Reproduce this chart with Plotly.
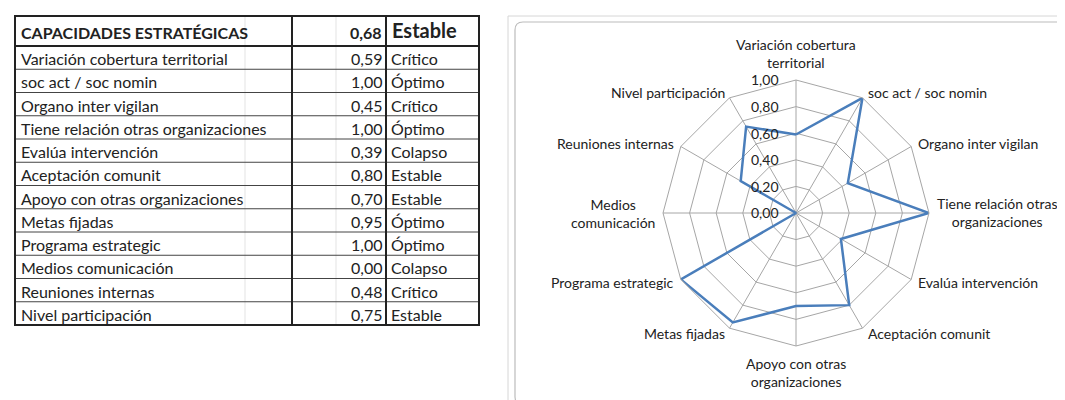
import math
import plotly.graph_objects as go

W, H = 1065, 400

# ---------------- data ----------------
title = "CAPACIDADES ESTRATÉGICAS"
overall_value = 0.68
overall_status = "Estable"

names = [
    "Variación cobertura territorial",
    "soc act / soc nomin",
    "Organo inter vigilan",
    "Tiene relación otras organizaciones",
    "Evalúa intervención",
    "Aceptación comunit",
    "Apoyo con otras organizaciones",
    "Metas fijadas",
    "Programa estrategic",
    "Medios comunicación",
    "Reuniones internas",
    "Nivel participación",
]
values = [0.59, 1.00, 0.45, 1.00, 0.39, 0.80, 0.70, 0.95, 1.00, 0.00, 0.48, 0.75]
status = ["Crítico", "Óptimo", "Crítico", "Óptimo", "Colapso", "Estable",
          "Estable", "Óptimo", "Óptimo", "Colapso", "Crítico", "Estable"]
chart_labels = [
    "Variación cobertura<br>territorial",
    "soc act / soc nomin",
    "Organo inter vigilan",
    "Tiene relación otras<br>organizaciones",
    "Evalúa intervención",
    "Aceptación comunit",
    "Apoyo con otras<br>organizaciones",
    "Metas fijadas",
    "Programa estrategic",
    "Medios<br>comunicación",
    "Reuniones internas",
    "Nivel participación",
]
radial_ticks = [0.0, 0.2, 0.4, 0.6, 0.8, 1.0]

# ---------------- helpers ----------------
def px(x):
    return x / W

def py(y):
    return 1 - y / H

def fmt(v):
    return f"{v:.2f}".replace(".", ",")

FONT = "Lato, 'Open Sans', sans-serif"
TXT = "#222222"

fig = go.Figure()

# ---------------- radar ----------------
cx, cy, R = 788, 205, 133
fig.add_trace(go.Scatterpolar(
    r=values + [values[0]],
    theta=names + [names[0]],
    mode="lines",
    line=dict(color="#4a7ebb", width=2.5),
    hoverinfo="skip",
    showlegend=False,
))

shapes = []
annotations = []

# radial tick labels (left of the vertical spoke, like Excel)
for t in radial_ticks:
    annotations.append(dict(text=fmt(t), x=px(cx - 15), y=py(cy - t * R), xref="paper", yref="paper",
                            xanchor="right", yanchor="middle", showarrow=False,
                            font=dict(family=FONT, size=14, color=TXT)))

# category labels around the web (Excel-style placement)
n_cat = len(names)
for i, lab in enumerate(chart_labels):
    ang = math.radians(90 - i * 360 / n_cat)
    ca, sa = math.cos(ang), math.sin(ang)
    pad = 6 if abs(ca) > 0.1 else 7
    lx = cx + (R + pad) * ca
    ly = cy - (R + pad) * sa
    xa = "left" if ca > 0.1 else ("right" if ca < -0.1 else "center")
    if abs(ca) <= 0.1:
        ya = "bottom" if sa > 0 else "top"
    else:
        ya = "middle"
    annotations.append(dict(text=lab, x=px(lx), y=py(ly), xref="paper", yref="paper",
                            xanchor=xa, yanchor=ya, align="center", showarrow=False,
                            font=dict(family=FONT, size=14, color=TXT)))

# ---------------- table ----------------
L, C1, C2, Rt = 7, 284, 378, 471
top, head_bot = 8, 38
row_h = (317 - head_bot) / len(names)
bottom = head_bot + row_h * len(names)

for gx in [237, 328]:
    shapes.append(dict(type="line", xref="paper", yref="paper",
                       x0=px(gx), x1=px(gx), y0=py(top), y1=py(bottom),
                       line=dict(color="#e3e3e3", width=1), layer="below"))

for i in range(1, len(names)):
    yy = head_bot + i * row_h
    shapes.append(dict(type="line", xref="paper", yref="paper",
                       x0=px(L), x1=px(Rt), y0=py(yy), y1=py(yy),
                       line=dict(color="#444444", width=1)))
shapes.append(dict(type="line", xref="paper", yref="paper",
                   x0=px(L), x1=px(Rt), y0=py(head_bot), y1=py(head_bot),
                   line=dict(color="#222222", width=2)))
for cxl in [C1, C2]:
    shapes.append(dict(type="line", xref="paper", yref="paper",
                       x0=px(cxl), x1=px(cxl), y0=py(top), y1=py(bottom),
                       line=dict(color="#222222", width=2)))
shapes.append(dict(type="rect", xref="paper", yref="paper",
                   x0=px(L), x1=px(Rt), y0=py(top), y1=py(bottom),
                   line=dict(color="#222222", width=2)))

hy = py((top + head_bot) / 2 + 1)
annotations.append(dict(text=f"<b>{title}</b>", x=px(L + 4), y=hy, xref="paper", yref="paper",
                        xanchor="left", yanchor="middle", showarrow=False,
                        font=dict(family=FONT, size=16, color=TXT)))
annotations.append(dict(text=f"<b>{fmt(overall_value)}</b>", x=px(C2 - 2), y=hy, xref="paper", yref="paper",
                        xanchor="right", yanchor="middle", showarrow=False,
                        font=dict(family=FONT, size=16, color=TXT)))
annotations.append(dict(text=f"<b>{overall_status}</b>", x=px(C2 + 4), y=py((top + head_bot) / 2 - 1), xref="paper", yref="paper",
                        xanchor="left", yanchor="middle", showarrow=False,
                        font=dict(family=FONT, size=20, color=TXT)))

for i, (n, v, s) in enumerate(zip(names, values, status)):
    yy = py(head_bot + (i + 0.5) * row_h + 1)
    annotations.append(dict(text=n, x=px(L + 4), y=yy, xref="paper", yref="paper",
                            xanchor="left", yanchor="middle", showarrow=False,
                            font=dict(family=FONT, size=16, color=TXT)))
    annotations.append(dict(text=fmt(v), x=px(C2 - 2), y=yy, xref="paper", yref="paper",
                            xanchor="right", yanchor="middle", showarrow=False,
                            font=dict(family=FONT, size=16, color=TXT)))
    annotations.append(dict(text=s, x=px(C2 + 3), y=yy, xref="paper", yref="paper",
                            xanchor="left", yanchor="middle", showarrow=False,
                            font=dict(family=FONT, size=16, color=TXT)))

# ---------------- chart frame ----------------
shapes.append(dict(type="line", xref="paper", yref="paper",
                   x0=px(500), x1=px(500), y0=py(8), y1=py(400),
                   line=dict(color="#d6d6d6", width=1), layer="below"))
shapes.append(dict(type="line", xref="paper", yref="paper",
                   x0=px(500), x1=px(1065), y0=py(8), y1=py(8),
                   line=dict(color="#d6d6d6", width=1), layer="below"))
x0b, x1b, y0b, y1b, rr = 507, 1062, 14, 397, 8
path = (f"M {px(x0b + rr)},{py(y0b)} L {px(x1b - rr)},{py(y0b)} "
        f"Q {px(x1b)},{py(y0b)} {px(x1b)},{py(y0b + rr)} "
        f"L {px(x1b)},{py(y1b - rr)} Q {px(x1b)},{py(y1b)} {px(x1b - rr)},{py(y1b)} "
        f"L {px(x0b + rr)},{py(y1b)} Q {px(x0b)},{py(y1b)} {px(x0b)},{py(y1b - rr)} "
        f"L {px(x0b)},{py(y0b + rr)} Q {px(x0b)},{py(y0b)} {px(x0b + rr)},{py(y0b)} Z")
shapes.append(dict(type="path", path=path, xref="paper", yref="paper",
                   line=dict(color="#bcbcbc", width=1.2), layer="below"))

GRID = "#a6a6a6"
fig.update_layout(
    width=W, height=H,
    margin=dict(l=0, r=0, t=0, b=0),
    paper_bgcolor="white",
    separators=",.",
    showlegend=False,
    shapes=shapes,
    annotations=annotations,
    polar=dict(
        domain=dict(x=[px(cx - R), px(cx + R)], y=[py(cy + R), py(cy - R)]),
        bgcolor="rgba(0,0,0,0)",
        gridshape="linear",
        angularaxis=dict(
            type="category",
            categoryarray=names,
            direction="clockwise",
            rotation=90,
            showticklabels=False,
            showline=True,
            linecolor=GRID,
            linewidth=1,
            gridcolor=GRID,
            gridwidth=1,
            ticks="",
        ),
        radialaxis=dict(
            range=[0, 1],
            tickmode="array",
            tickvals=radial_ticks,
            showticklabels=False,
            angle=90,
            showline=False,
            gridcolor=GRID,
            gridwidth=1,
            ticks="",
        ),
    ),
)

fig.write_html("out.html")
